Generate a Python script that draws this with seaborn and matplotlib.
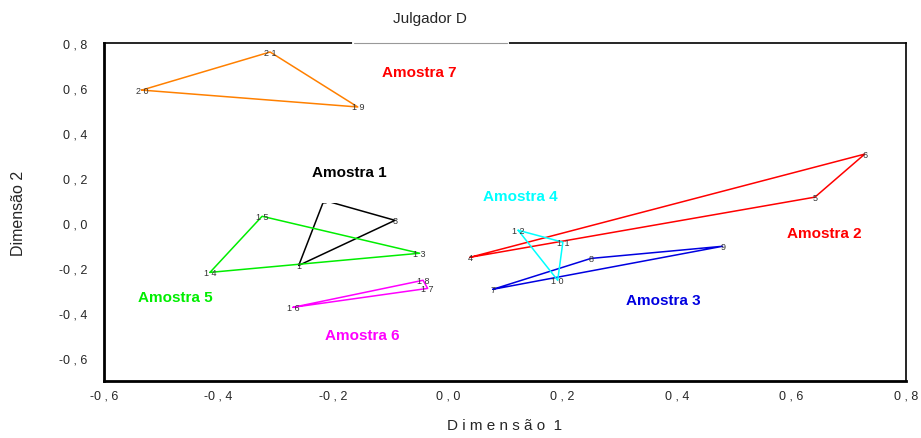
import pandas as pd
import seaborn as sns
import matplotlib.pyplot as plt

# samples (3 repetitions each) for Julgador D
amostra = ['Amostra 1'] * 3 + ['Amostra 2'] * 3 + ['Amostra 3'] * 3 + ['Amostra 4'] * 3 + \
          ['Amostra 5'] * 3 + ['Amostra 6'] * 3 + ['Amostra 7'] * 3
rep = [1, 2, 3, 4, 6, 5, 7, 8, 9, 12, 11, 10, 14, 15, 13, 16, 18, 17, 20, 21, 19]
dim1 = [-0.260, -0.216, -0.092, 0.039, 0.728, 0.641, 0.079, 0.250, 0.480,
        0.123, 0.201, 0.192, -0.415, -0.324, -0.049, -0.270, -0.043, -0.035,
        -0.534, -0.310, -0.157]
dim2 = [-0.187, 0.102, 0.013, -0.151, 0.307, 0.116, -0.293, -0.156, -0.102,
        -0.031, -0.084, -0.253, -0.218, 0.031, -0.133, -0.373, -0.253, -0.289,
        0.591, 0.760, 0.516]

nomes = ['Amostra 1', 'Amostra 2', 'Amostra 3', 'Amostra 4', 'Amostra 5', 'Amostra 6', 'Amostra 7']
cores = ['black', '#ff0000', '#0000e0', '#00ffff', '#00ee00', '#ff00ff', '#ff8000']
cor_texto = ['black', '#ff0000', '#0000e0', '#00ffff', '#00ee00', '#ff00ff', '#ff0000']
nome_x = [-0.172, 0.658, 0.377, 0.126, -0.476, -0.150, -0.050]
nome_y = [0.227, -0.044, -0.342, 0.120, -0.329, -0.498, 0.671]

xticks = [-0.6, -0.4, -0.2, 0.0, 0.2, 0.4, 0.6, 0.8]
yticks = [-0.6, -0.4, -0.2, 0.0, 0.2, 0.4, 0.6, 0.8]
xlabels = ['-0 , 6', '-0 , 4', '-0 , 2', '0 , 0', '0 , 2', '0 , 4', '0 , 6', '0 , 8']
ylabels = ['-0 , 6', '-0 , 4', '-0 , 2', '0 , 0', '0 , 2', '0 , 4', '0 , 6', '0 , 8']

df = pd.DataFrame({'amostra': amostra, 'rep': rep, 'dim1': dim1, 'dim2': dim2})
# close each triangle
fechado = pd.concat([df, df.groupby('amostra').head(1)]).reset_index(drop=True)
fechado['ordem'] = fechado.groupby('amostra').cumcount()
fechado = fechado.sort_values(['amostra', 'ordem'])

sns.set_style('white')
plt.rcParams['font.family'] = ['Liberation Sans', 'DejaVu Sans']

fig = plt.figure(figsize=(9.21, 4.39), dpi=100)
ax = fig.add_axes([0.1129, 0.1298, 0.8708, 0.77])

sns.lineplot(data=fechado, x='dim1', y='dim2', hue='amostra', hue_order=nomes,
             palette=cores, sort=False, estimator=None, lw=1.1, legend=False, ax=ax)

for _, r in df.iterrows():
    ax.text(r['dim1'], r['dim2'], ' '.join(str(r['rep'])), fontsize=6.5,
            color='#333333', ha='center', va='center', zorder=3)

for nome, x, y, c in zip(nomes, nome_x, nome_y, cor_texto):
    caixa = None
    if nome == 'Amostra 1':
        caixa = dict(facecolor='white', edgecolor='none', pad=17)
    ax.text(x, y, nome, fontsize=11, fontweight='bold', color=c, ha='center',
            va='center', zorder=4, bbox=caixa)

ax.set_xlim(-0.6, 0.8)
ax.set_ylim(-0.7, 0.8)
ax.set_xticks(xticks)
ax.set_xticklabels(xlabels, fontsize=9)
ax.set_yticks(yticks)
ax.set_yticklabels(ylabels, fontsize=9)
ax.tick_params(axis='both', direction='in', length=9, width=1.2, color='black')
ax.tick_params(axis='x', pad=6)
ax.tick_params(axis='y', pad=12)
for s in ['left', 'bottom']:
    ax.spines[s].set_linewidth(2)
    ax.spines[s].set_color('black')
for s in ['top', 'right']:
    ax.spines[s].set_linewidth(1.2)
    ax.spines[s].set_color('black')

# gap of the top border below the title
ax.plot([0.312, 0.502], [1, 1], transform=ax.transAxes, color='white', lw=3, clip_on=False, zorder=5)
ax.plot([0.312, 0.502], [1, 1], transform=ax.transAxes, color='#999999', lw=0.8, clip_on=False, zorder=6)

ax.set_xlabel('D i m e n s ã o  1', fontsize=11, labelpad=12)
ax.set_ylabel('Dimensão 2', fontsize=11.5, labelpad=24)
fig.text(0.467, 0.957, 'Julgador D', fontsize=11, ha='center', va='center')

plt.savefig('out.png', dpi=100)
